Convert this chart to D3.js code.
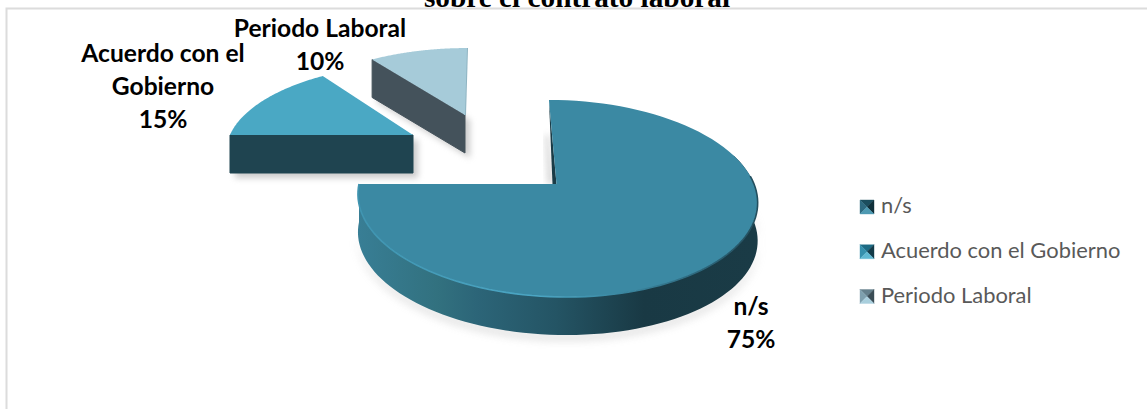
<!DOCTYPE html>
<html><head><meta charset="utf-8">
<script src="https://cdn.jsdelivr.net/npm/d3@7"></script>
<style>html,body{margin:0;padding:0;background:#fff;overflow:hidden}svg{display:block}</style>
</head><body><svg id="c" width="1147" height="409"></svg>
<script>
const categories = ["n/s", "Acuerdo con el Gobierno", "Periodo Laboral"];
const values = [75, 15, 10];
const titleText = "sobre el contrato laboral";

const topColors = ["#3b89a3", "#4aa8c4", "#a6cbd9"];
const wallColors = ["#1a3c47", "#1f4450", "#44525b"];
const sliceGeometry = [
  {cx:556.5, cy:184, R:197.5, Ry:96.4, skew:0.09, depth:38},
  {cx:413, cy:135, R:183, Ry:81.6, skew:-0.1, depth:38},
  {cx:465, cy:115, R:180, Ry:76.8, skew:-0.03, depth:38}
];
const labelLayout = [
  {x:751, y:315},
  {x:163, y:62},
  {x:320, y:37}
];
const K = 0.147, W = 1147, H = 409;

const svg = d3.select("#c");
const defs = svg.append("defs");
const blur = (id, s) => defs.append("filter").attr("id", id)
  .attr("x","-20%").attr("y","-20%").attr("width","140%").attr("height","140%")
  .append("feGaussianBlur").attr("stdDeviation", s);
blur("sh", 5); blur("soft", 0.7); blur("sh2", 3);

const side = defs.append("linearGradient").attr("id","sideGrad")
  .attr("gradientUnits","userSpaceOnUse").attr("x1",358).attr("x2",755).attr("y1",0).attr("y2",0);
[[0,"#387e95"],[0.2,"#32717f"],[0.3,"#2c6578"],[0.5,"#245464"],[0.72,"#193944"],[1,"#1a3b46"]]
  .forEach(([o,c]) => side.append("stop").attr("offset",o).attr("stop-color",c));
const rim = defs.append("linearGradient").attr("id","rimGrad")
  .attr("gradientUnits","userSpaceOnUse").attr("x1",358).attr("x2",755).attr("y1",0).attr("y2",0);
[[0,"#3f94b0"],[0.45,"#4ba6c4"],[0.65,"#3b89a3"],[0.9,"#2a6074"],[1,"#244f5e"]]
  .forEach(([o,c]) => rim.append("stop").attr("offset",o).attr("stop-color",c));

// chart frame
svg.append("path").attr("d", `M6.5,${H} V8.5 H${W}`)
  .attr("fill","none").attr("stroke","#dcdcdc").attr("stroke-width",2);

// title, cut by the top of the page
svg.append("text").text(titleText).attr("x",577).attr("y",6.5).attr("text-anchor","middle")
  .attr("font-family","Liberation Serif").attr("font-weight","bold").attr("font-size",29.3).attr("fill","#000");

const arcs = d3.pie().sort(null).startAngle(0).endAngle(2*Math.PI)(values);

function project(g, th, r, z) {
  const c = Math.cos(th), s = Math.sin(th), f = r / (1 + K*c);
  const dy = -g.Ry*c*f;
  return [g.cx + g.R*s*f + g.skew*dy, g.cy + dy + z];
}
const line = d3.line();
const sweep = (g, a, b, z) => d3.range(0, 91).map(i => project(g, a + (b-a)*i/90, 1, z));

const gOrder = [2, 1, 0];
gOrder.forEach(i => {
  const g = sliceGeometry[i], a = arcs[i], G = svg.append("g");
  const apex = [g.cx, g.cy];
  const rimTop = sweep(g, a.startAngle, a.endAngle, 0);
  const topFace = line([apex, ...rimTop]) + "Z";

  if (i === 0) {
    const front = sweep(g, Math.PI*0.4, a.endAngle, 0);
    const frontLow = sweep(g, Math.PI*0.4, a.endAngle, g.depth);
    G.append("path").attr("d", line([...frontLow, ...frontLow.map(p=>[p[0],p[1]+4]).reverse()]) + "Z")
      .attr("fill","#9a9a9a").attr("opacity",0.55).attr("filter","url(#sh)");
    const pStart = project(g, a.startAngle, 1, 0);
    G.append("path").attr("d", line([[pStart[0]-4,pStart[1]+35],[g.cx-9,g.cy],[g.cx-2,g.cy],[pStart[0],pStart[1]+35]])+"Z")
      .attr("fill","#bbb").attr("opacity",0.6).attr("filter","url(#sh2)");
    G.append("path").attr("d", line([pStart,[g.cx,g.cy],[g.cx-4,g.cy]])+"Z").attr("fill",wallColors[i]);
    G.append("path").attr("d", line([...front, ...frontLow.slice().reverse()]) + "Z").attr("fill","url(#sideGrad)");
    G.append("path").attr("d", topFace).attr("fill",topColors[i]);
    G.append("path").attr("d", line(front.slice(6))).attr("fill","none").attr("stroke","url(#rimGrad)").attr("stroke-width",1.6).attr("filter","url(#soft)");
  } else {
    const pS = project(g, a.startAngle, 1, 0), pE = project(g, a.endAngle, 1, 0);
    const wall = line([pS, apex, [apex[0],apex[1]+g.depth], [pS[0],pS[1]+g.depth]]) + "Z";
    G.append("path").attr("d", wall).attr("fill","#999").attr("opacity",0.5)
      .attr("transform","translate(5,5)").attr("filter","url(#sh2)");
    G.append("path").attr("d", wall).attr("fill",wallColors[i]).attr("stroke",wallColors[i]).attr("stroke-width",1).attr("stroke-linejoin","round");
    if (i === 2) {
      G.append("path").attr("d", line([pE, apex])).attr("stroke","#8fb4c2").attr("stroke-width",2).attr("fill","none");
    }
    G.append("path").attr("d", topFace).attr("fill",topColors[i]);
  }
});

// data labels
const fontFam = "Lato, Carlito, 'Open Sans', sans-serif";
function wrap(t, maxChars) {
  const out = []; let cur = "";
  t.split(" ").forEach(w => {
    if (cur && (cur + " " + w).length > maxChars) { out.push(cur); cur = w; }
    else cur = cur ? cur + " " + w : w;
  });
  out.push(cur); return out;
}
categories.forEach((c, i) => {
  const L = labelLayout[i];
  const t = svg.append("text").attr("text-anchor","middle").attr("font-family",fontFam)
    .attr("font-weight","bold").attr("font-size",24.6).attr("fill","#000");
  const pct = d3.format(".0%")(values[i] / d3.sum(values));
  [...wrap(c, 15), pct].forEach((ln, j) => {
    t.append("tspan").attr("x",L.x).attr("y",L.y + j*33).text(ln);
  });
});

// legend
const legendY = d3.scalePoint().domain(categories).range([207, 296.5]);
const markerShades = [
  ["#1b4e5e","#2d6a80","#10303a","#4e9ab2"],
  ["#1d6b84","#3590ad","#123a48","#5fb8d2"],
  ["#64808c","#7ea0ae","#3a4c55","#a9cfdd"]
];
categories.forEach((c, i) => {
  const y = legendY(c), x0 = 860, s = 14, cx = x0 + s/2, y0 = y - s/2;
  const corners = [[x0,y0],[x0+s,y0],[x0+s,y0+s],[x0,y0+s]];
  const faces = [[0,1,0],[3,0,1],[1,2,2],[2,3,3]];
  faces.forEach(([a,b,col]) => {
    svg.append("path").attr("d", line([corners[a],corners[b],[cx,y]])+"Z")
      .attr("fill",markerShades[i][col]).attr("stroke",markerShades[i][col]).attr("stroke-width",0.4);
  });
  svg.append("text").text(c).attr("x",881).attr("y",y+6).attr("font-family",fontFam)
    .attr("font-size",21.9).attr("fill","#595959");
});
</script></body></html>
